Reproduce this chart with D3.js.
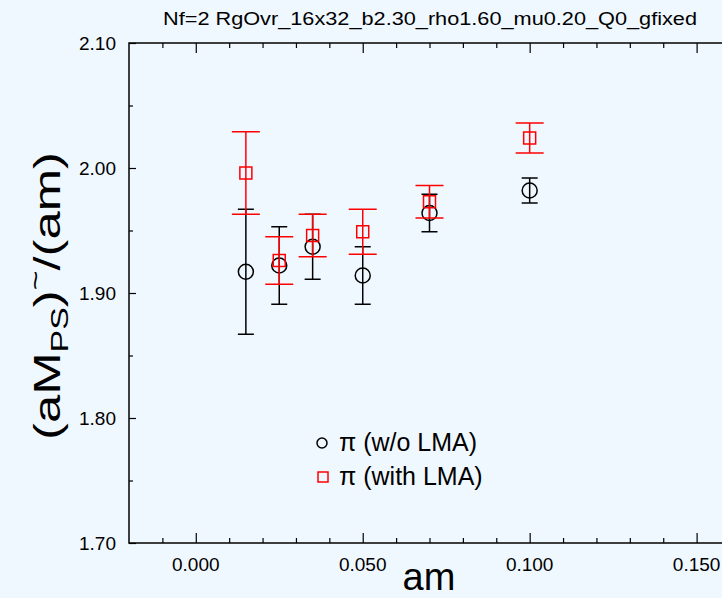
<!DOCTYPE html>
<html>
  <head>
    <meta charset="utf-8">
    <title>Nf=2 RgOvr</title>
    <script src="https://d3js.org/d3.v7.min.js"></script>
    <style>
      body { margin: 0; background: #f0f8ff; }
      svg { display: block; font-family: 'Liberation Sans', Arial, sans-serif; }
    </style>
  </head>
  <body>
    <script>
// Data
var amValues = [0.015, 0.025, 0.035, 0.05, 0.07, 0.1];
var noLma = [1.917, 1.922, 1.937, 1.914, 1.964, 1.982];
var noLmaErr = [0.050, 0.031, 0.026, 0.023, 0.015, 0.010];
var withLma = [1.996, 1.926, 1.946, 1.949, 1.973, 2.024];
var withLmaErr = [0.033, 0.019, 0.017, 0.018, 0.013, 0.012];
var xTicks = [0.0, 0.05, 0.10, 0.15];
var yTicks = [1.70, 1.80, 1.90, 2.00, 2.10];
var titleText = "Nf=2  RgOvr_16x32_b2.30_rho1.60_mu0.20_Q0_gfixed";
var legendLabels = ["\u03c0 (w/o LMA)", "\u03c0 (with LMA)"];

var W = 722, H = 598;
var pLeft = 129, pTop = 43, pRight = 730, pBottom = 543;

var x = d3.scaleLinear().domain([-0.02, 0.16]).range([pLeft, pRight]);
var y = d3.scaleLinear().domain([1.70, 2.10]).range([pBottom, pTop]);

var svg = d3.select("body").append("svg").attr("width", W).attr("height", H);
svg.append("rect").attr("width", W).attr("height", H).attr("fill", "#f0f8ff");

// frame
svg.append("rect")
  .attr("x", pLeft).attr("y", pTop)
  .attr("width", pRight - pLeft).attr("height", pBottom - pTop)
  .attr("fill", "none").attr("stroke", "black").attr("stroke-width", 1.5);

// x axes (bottom + top), ticks inside
var xMinor = d3.range(-0.01, 0.161, 0.01).filter(function(v){ return Math.abs(Math.round(v*100) % 5) != 0; });
function xAxisAt(ypos, axisFn) {
  svg.append("g").attr("transform", "translate(0," + ypos + ")")
    .call(axisFn(x).tickValues(xMinor).tickSize(5).tickFormat(""))
    .call(function(g){ g.select(".domain").remove(); });
  svg.append("g").attr("transform", "translate(0," + ypos + ")")
    .call(axisFn(x).tickValues(xTicks).tickSize(10).tickFormat(""))
    .call(function(g){ g.select(".domain").remove(); });
}
xAxisAt(pBottom, d3.axisTop);
xAxisAt(pTop, d3.axisBottom);

svg.append("g").selectAll("text").data(xTicks).enter().append("text")
  .attr("x", function(d){ return x(d); }).attr("y", pBottom + 28)
  .attr("text-anchor", "middle").attr("font-size", 19)
  .text(function(d){ return d3.format(".3f")(d); });

// y axis
var yMinor = [1.75, 1.85, 1.95, 2.05];
svg.append("g").attr("transform", "translate(" + pLeft + ",0)")
  .call(d3.axisRight(y).tickValues(yMinor).tickSize(4).tickFormat(""))
  .call(function(g){ g.select(".domain").remove(); });
svg.append("g").attr("transform", "translate(" + pLeft + ",0)")
  .call(d3.axisRight(y).tickValues(yTicks).tickSize(7).tickFormat(""))
  .call(function(g){ g.select(".domain").remove(); });
svg.selectAll(".tick line").attr("stroke-width", 1.2);

svg.append("g").selectAll("text").data(yTicks).enter().append("text")
  .attr("x", pLeft - 13).attr("y", function(d){ return y(d) + 7; })
  .attr("text-anchor", "end").attr("font-size", 19)
  .text(function(d){ return d3.format(".2f")(d); });

// title
svg.append("text").attr("x", 430).attr("y", 25).attr("text-anchor", "middle")
  .attr("font-size", 18).attr("textLength", 534).attr("lengthAdjust", "spacingAndGlyphs")
  .text(titleText);

// axis labels
svg.append("text").attr("x", 429).attr("y", 590).attr("text-anchor", "middle")
  .attr("font-size", 38).text("am");

var yl = svg.append("text").attr("text-anchor", "middle").attr("font-size", 36)
  .attr("textLength", 288).attr("lengthAdjust", "spacingAndGlyphs")
  .attr("transform", "translate(60,296) rotate(-90)");
yl.append("tspan").text("(aM");
yl.append("tspan").attr("font-size", 24).attr("dy", 8).text("PS");
yl.append("tspan").attr("dy", -8).text(")");
yl.append("tspan").attr("font-size", 24).attr("dy", -16).text("~");
yl.append("tspan").attr("dy", 16).text("/(am)");

// error bar series
function drawSeries(vals, errs, color, cap, shape) {
  var g = svg.append("g");
  var pts = amValues.map(function(a, i){ return {a: a, v: vals[i], e: errs[i]}; });
  g.selectAll("line.v").data(pts).enter().append("line")
    .attr("x1", function(d){ return x(d.a); }).attr("x2", function(d){ return x(d.a); })
    .attr("y1", function(d){ return y(d.v + d.e); }).attr("y2", function(d){ return y(d.v - d.e); })
    .attr("stroke", color).attr("stroke-width", 1.5);
  [1, -1].forEach(function(s){
    g.selectAll("line.c" + s).data(pts).enter().append("line")
      .attr("x1", function(d){ return x(d.a) - cap; }).attr("x2", function(d){ return x(d.a) + cap; })
      .attr("y1", function(d){ return y(d.v + s*d.e); }).attr("y2", function(d){ return y(d.v + s*d.e); })
      .attr("stroke", color).attr("stroke-width", 1.5);
  });
  if (shape == "circle") {
    g.selectAll("circle").data(pts).enter().append("circle")
      .attr("cx", function(d){ return x(d.a); }).attr("cy", function(d){ return y(d.v); })
      .attr("r", 7.5).attr("fill", "none").attr("stroke", color).attr("stroke-width", 1.5);
  } else {
    g.selectAll("rect").data(pts).enter().append("rect")
      .attr("x", function(d){ return x(d.a) - 6; }).attr("y", function(d){ return y(d.v) - 6; })
      .attr("width", 12).attr("height", 12)
      .attr("fill", "none").attr("stroke", color).attr("stroke-width", 1.5);
  }
}
drawSeries(noLma, noLmaErr, "black", 8, "circle");
drawSeries(withLma, withLmaErr, "red", 14, "square");

// legend
var lg = svg.append("g");
lg.append("circle").attr("cx", 322).attr("cy", 443).attr("r", 5)
  .attr("fill", "none").attr("stroke", "black").attr("stroke-width", 1.5);
lg.append("rect").attr("x", 318).attr("y", 472).attr("width", 10).attr("height", 10)
  .attr("fill", "none").attr("stroke", "red").attr("stroke-width", 1.5);
lg.selectAll("text").data(legendLabels).enter().append("text")
  .attr("x", 339).attr("y", function(d, i){ return 451 + i*34; })
  .attr("font-size", 25).text(function(d){ return d; });
    </script>
  </body>
</html>
